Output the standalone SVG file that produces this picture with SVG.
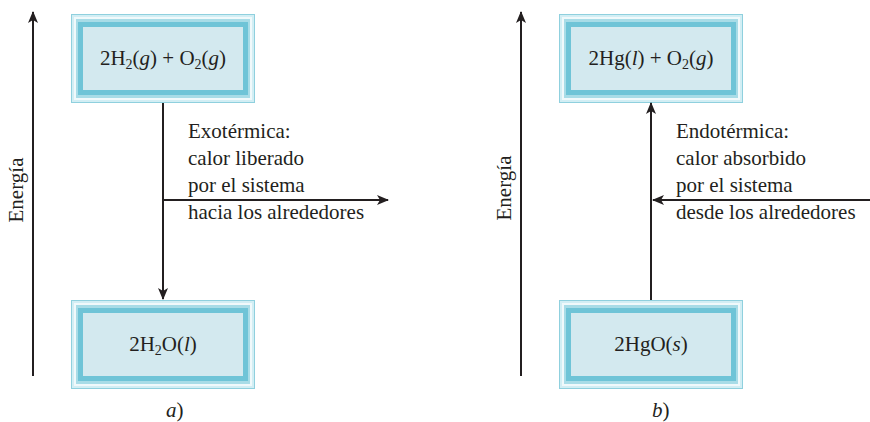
<svg xmlns="http://www.w3.org/2000/svg" width="870" height="422" viewBox="0 0 870 422">
<defs>
<marker id="ah" viewBox="0 0 12 10" refX="11" refY="5" markerWidth="12" markerHeight="10" markerUnits="userSpaceOnUse" orient="auto">
<path d="M0,0 L12,5 L0,10 L3,5 Z" fill="#231f20"/>
</marker>
</defs>
<style>
.t{font-family:"Liberation Serif","Times New Roman",serif;font-size:21px;fill:#231f20}
.c{text-anchor:middle}
.ax{stroke:#231f20;stroke-width:2;fill:none}
.b1{fill:#8fd0de}
.b2{fill:#d2eef4}
.b3{fill:#f0f9fb}
.b4{fill:#a8dce7}
.b5{fill:#6fc4d7}
.b6{fill:#d3e9ef}
</style>
<rect width="870" height="422" fill="#ffffff"/>

<g id="axis-a">
<line class="ax" x1="33" y1="376" x2="33" y2="12" marker-end="url(#ah)"/>
<text class="t" transform="translate(23,190) rotate(-90)" text-anchor="middle">Energía</text>
</g>
<g id="axis-b">
<line class="ax" x1="521" y1="376" x2="521" y2="12" marker-end="url(#ah)"/>
<text class="t" transform="translate(511,188) rotate(-90)" text-anchor="middle">Energía</text>
</g>

<g id="box-a-top">
<rect class="b1" x="71" y="14" width="184" height="89"/>
<rect class="b2" x="72" y="15" width="182" height="87"/>
<rect class="b3" x="74" y="17" width="178" height="83"/>
<rect class="b4" x="76" y="19" width="174" height="79"/>
<rect class="b5" x="78" y="22" width="170" height="73"/>
<rect class="b6" x="83" y="27" width="160" height="63"/>
<text class="t c" x="163" y="65">2H<tspan font-size="14" dy="4">2</tspan><tspan dy="-4">(</tspan><tspan font-style="italic">g</tspan>) + O<tspan font-size="14" dy="4">2</tspan><tspan dy="-4">(</tspan><tspan font-style="italic">g</tspan>)</text>
</g>
<g id="box-a-bottom">
<rect class="b1" x="71" y="300" width="184" height="89"/>
<rect class="b2" x="72" y="301" width="182" height="87"/>
<rect class="b3" x="74" y="303" width="178" height="83"/>
<rect class="b4" x="76" y="305" width="174" height="79"/>
<rect class="b5" x="78" y="308" width="170" height="73"/>
<rect class="b6" x="83" y="313" width="160" height="63"/>
<text class="t c" x="163" y="351">2H<tspan font-size="14" dy="4">2</tspan><tspan dy="-4">O(</tspan><tspan font-style="italic">l</tspan>)</text>
</g>
<g id="box-b-top">
<rect class="b1" x="559" y="14" width="184" height="89"/>
<rect class="b2" x="560" y="15" width="182" height="87"/>
<rect class="b3" x="562" y="17" width="178" height="83"/>
<rect class="b4" x="564" y="19" width="174" height="79"/>
<rect class="b5" x="566" y="22" width="170" height="73"/>
<rect class="b6" x="571" y="27" width="160" height="63"/>
<text class="t c" x="651" y="65">2Hg(<tspan font-style="italic">l</tspan>) + O<tspan font-size="14" dy="4">2</tspan><tspan dy="-4">(</tspan><tspan font-style="italic">g</tspan>)</text>
</g>
<g id="box-b-bottom">
<rect class="b1" x="559" y="300" width="184" height="89"/>
<rect class="b2" x="560" y="301" width="182" height="87"/>
<rect class="b3" x="562" y="303" width="178" height="83"/>
<rect class="b4" x="564" y="305" width="174" height="79"/>
<rect class="b5" x="566" y="308" width="170" height="73"/>
<rect class="b6" x="571" y="313" width="160" height="63"/>
<text class="t c" x="651" y="351">2HgO(<tspan font-style="italic">s</tspan>)</text>
</g>

<g id="connectors">
<line class="ax" x1="163" y1="103" x2="163" y2="299" marker-end="url(#ah)"/>
<line class="ax" x1="163" y1="200" x2="388" y2="200" marker-end="url(#ah)"/>
<line class="ax" x1="651" y1="300" x2="651" y2="103" marker-end="url(#ah)"/>
<line class="ax" x1="870" y1="200" x2="653" y2="200" marker-end="url(#ah)"/>
</g>

<g id="label-exo">
<text class="t" x="188" y="138">Exotérmica:</text>
<text class="t" x="188" y="165">calor liberado</text>
<text class="t" x="188" y="192">por el sistema</text>
<text class="t" x="188" y="219">hacia los alrededores</text>
</g>
<g id="label-endo">
<text class="t" x="676" y="138">Endotérmica:</text>
<text class="t" x="676" y="165">calor absorbido</text>
<text class="t" x="676" y="192">por el sistema</text>
<text class="t" x="676" y="219">desde los alrededores</text>
</g>

<g id="captions">
<text class="t" x="166" y="417"><tspan font-style="italic">a</tspan>)</text>
<text class="t" x="652" y="417"><tspan font-style="italic">b</tspan>)</text>
</g>
</svg>
